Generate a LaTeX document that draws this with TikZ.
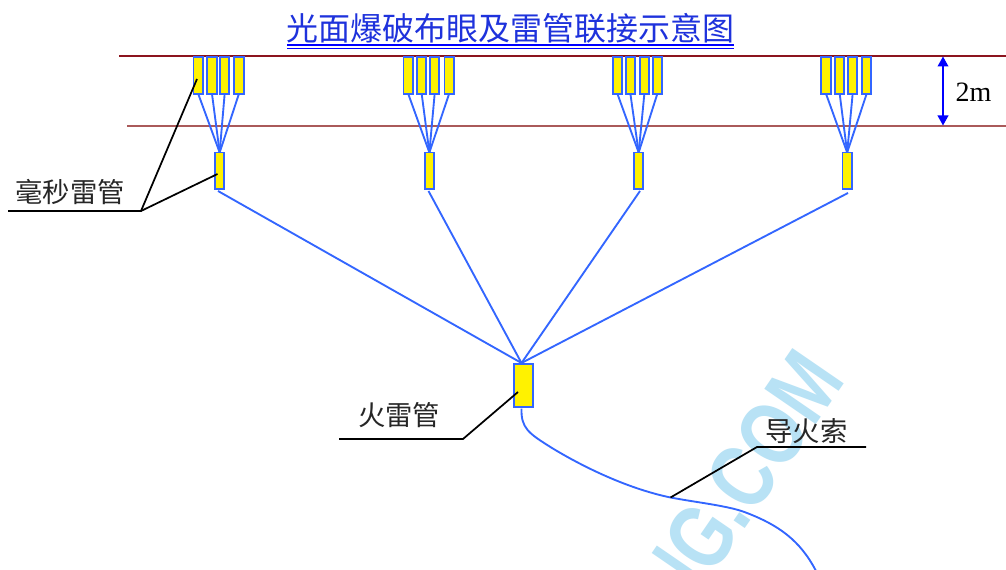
\documentclass[tikz,border=0pt]{standalone}
\usepackage{fontspec}
\setmainfont{Liberation Serif}
\newfontfamily\cjk{Noto Sans CJK SC}
\newfontfamily\wm{Liberation Sans}
\usetikzlibrary{arrows.meta}
\definecolor{wire}{HTML}{3366FF}
\definecolor{wmark}{HTML}{B8E2F5}
\tikzset{
  detbox/.style={draw=wire,fill=yellow,line width=1.4pt,inner sep=0pt,outer sep=0pt,anchor=north west,minimum width=7pt,minimum height=27.5pt},
  wireline/.style={wire,line width=1.4pt},
  leader/.style={black,line width=1.3pt},
  lbl/.style={font=\cjk\fontsize{20.5pt}{20.5pt}\selectfont,text=black!85,inner sep=0pt},
}
\begin{document}
\begin{tikzpicture}[x=0.75pt,y=-0.75pt]
\clip (0,0) rectangle (1006,570);
\fill[white] (0,0) rectangle (1006,570);
% watermark
\node[rotate=55.5,text=wmark,draw=none,inner sep=0pt,anchor=base east,font=\wm\bfseries\fontsize{68pt}{68pt}\selectfont,xscale=0.78] (wmk) at (847,380) {NG.COM};
% horizon lines
\coordinate (r1a) at (119,56); \coordinate (r1b) at (1006,56);
\coordinate (r2a) at (127,126); \coordinate (r2b) at (1006,126);
\draw[draw={rgb,255:red,140;green,20;blue,30},line width=1.6pt] (r1a) -- (r1b);
\draw[draw={rgb,255:red,170;green,90;blue,90},line width=1pt] (r2a) -- (r2b);
% title
\node[inner sep=0pt,anchor=base,font=\cjk\fontsize{24pt}{24pt}\selectfont,text={rgb,255:red,30;green,50;blue,220}] (title) at (510.5,41) {光面爆破布眼及雷管联接示意图};
\coordinate (u1a) at (287,45); \coordinate (u1b) at (734,45);
\coordinate (u2a) at (287,48.5); \coordinate (u2b) at (734,48.5);
\draw[blue,line width=1pt] (u1a) -- (u1b);
\draw[blue,line width=1pt] (u2a) -- (u2b);
% groups
\foreach \g/\xa/\xb/\xc/\xd/\xl in {a/193.5/207.3/220/234.3/215,b/403.5/417/430/444.5/424.7,c/612.7/625.7/639.7/652.7/634,d/821.3/835/848/862/842.5}{
  \node[detbox] (\g1) at (\xa,57) {};
  \node[detbox] (\g2) at (\xb,57) {};
  \node[detbox] (\g3) at (\xc,57) {};
  \node[detbox] (\g4) at (\xd,57) {};
  \node[detbox] (\g5) at (\xl,152.5) {};
  \foreach \i in {1,2,3,4}{
    \draw[wireline] (\g\i.south) -- (\g5.north);
  }
}
% fire detonator
\node[detbox,minimum width=14pt,minimum height=32.5pt] (fire) at (514.2,364) {};
\coordinate (ca) at (218,191); \coordinate (cb) at (428.5,191); \coordinate (cc) at (640,191); \coordinate (cd) at (848,193);
\coordinate (ft) at (521.5,363);
\draw[wireline] (ca) -- (ft);
\draw[wireline] (cb) -- (ft);
\draw[wireline] (cc) -- (ft);
\draw[wireline] (cd) -- (ft);
% fuse
\coordinate (f0) at (521.5,408.5); \coordinate (f1) at (670.5,497.5); \coordinate (fend) at (816,571);
\draw[wireline] (f0) .. controls (521,428) and (528,433) .. (552,448)
  .. controls (580,465) and (625,488) .. (f1)
  .. controls (700,503) and (730,506) .. (747,513)
  .. controls (778,525) and (800,540) .. (fend);
% leaders
\coordinate (l1) at (8,211); \coordinate (l2) at (141,211);
\coordinate (t1) at (197,79); \coordinate (t2) at (217.5,174);
\draw[leader] (l1) -- (l2) -- (t1);
\draw[leader] (l2) -- (t2);
\coordinate (h1) at (339,439); \coordinate (h2) at (463,439); \coordinate (h3) at (518,392);
\draw[leader] (h1) -- (h2) -- (h3);
\coordinate (d1) at (866,447); \coordinate (d2) at (757,447);
\draw[leader] (d1) -- (d2) -- (f1);
% labels
\node[lbl] (lab1) at (70,192) {毫秒雷管};
\node[lbl] (lab2) at (399,415) {火雷管};
\node[lbl] (lab3) at (806.5,431) {导火索};
% 2m
\coordinate (m1) at (943,56.5); \coordinate (m2) at (943,125.5);
\draw[blue,line width=1.2pt,{Triangle[width=8pt,length=7.5pt]}-{Triangle[width=8pt,length=7.5pt]}] (m1) -- (m2);
\node[inner sep=0pt,font=\fontsize{21pt}{21pt}\selectfont] (two) at (973.5,92) {2m};
\end{tikzpicture}
\end{document}
